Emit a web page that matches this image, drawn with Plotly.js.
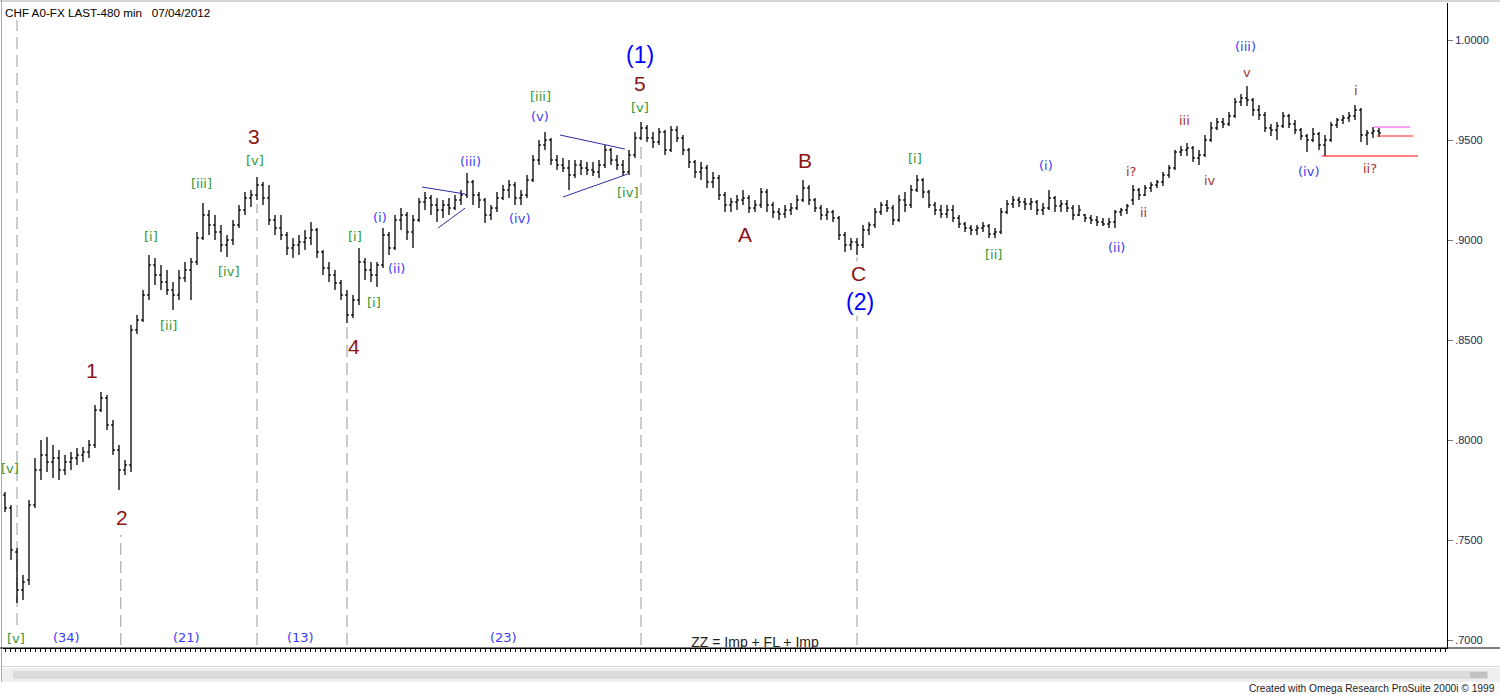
<!DOCTYPE html>
<html><head><meta charset="utf-8">
<script src="https://cdn.plot.ly/plotly-3.0.1.min.js"></script>
<style>html,body{margin:0;padding:0;background:#fff;}#chart{width:1500px;height:695px;}</style>
</head><body><div id="chart"></div>
<script>
// ---- OHLC data (CHF A0-FX, 480 min bars) ----
const opens = [
.7725,.7660,.7440,.7250,.7300,.7675,.7850,.7925,.7890,.7910,
.7850,.7890,.7910,.7925,.7940,.7975,.8150,.8210,.8075,.7950,
.7850,.7875,.8550,.8600,.8725,.8875,.8825,.8790,.8750,.8725,
.8810,.8850,.8890,.9010,.9125,.9075,.9040,.8975,.9000,.9075,
.9150,.9210,.9225,.9275,.9210,.9100,.9060,.9025,.8960,.8975,
.8990,.9010,.9050,.8940,.8860,.8825,.8785,.8725,.8625,.8700,
.8890,.8850,.8825,.8875,.9025,.8960,.9100,.9125,.9040,.9100,
.9190,.9210,.9175,.9150,.9175,.9160,.9200,.9225,.9290,.9225,
.9200,.9125,.9160,.9210,.9250,.9275,.9210,.9225,.9300,.9400,
.9475,.9500,.9400,.9375,.9360,.9325,.9375,.9360,.9350,.9340,
.9375,.9450,.9400,.9375,.9340,.9425,.9510,.9560,.9510,.9490,
.9540,.9450,.9550,.9510,.9450,.9390,.9340,.9360,.9290,.9310,
.9225,.9175,.9190,.9200,.9210,.9160,.9175,.9240,.9175,.9140,
.9130,.9150,.9160,.9200,.9260,.9200,.9160,.9125,.9140,.9110,
.9025,.8975,.8990,.8975,.9050,.9075,.9140,.9175,.9160,.9100,
.9200,.9175,.9250,.9300,.9240,.9175,.9150,.9130,.9150,.9110,
.9080,.9060,.9050,.9060,.9070,.9030,.9040,.9140,.9180,.9200,
.9190,.9180,.9190,.9150,.9160,.9210,.9170,.9180,.9160,.9125,
.9125,.9110,.9100,.9090,.9080,.9090,.9140,.9150,.9200,.9250,
.9225,.9260,.9275,.9290,.9325,.9360,.9440,.9450,.9460,.9410,
.9425,.9500,.9560,.9590,.9580,.9620,.9690,.9710,.9700,.9650,
.9625,.9560,.9550,.9570,.9620,.9580,.9550,.9520,.9500,.9530,
.9475,.9500,.9575,.9600,.9610,.9620,.9650,.9525,.9535,.9545];
const highs = [
.7740,.7675,.7460,.7325,.7700,.7910,.8000,.8015,.7975,.7950,
.7925,.7940,.7960,.7965,.8000,.8175,.8240,.8225,.8100,.7975,
.7900,.8575,.8625,.8750,.8925,.8910,.8875,.8850,.8790,.8850,
.8890,.8910,.9040,.9185,.9150,.9125,.9075,.9025,.9100,.9175,
.9240,.9250,.9315,.9290,.9275,.9125,.9125,.9040,.9010,.9025,
.9050,.9090,.9060,.8950,.8890,.8850,.8800,.8750,.8725,.8960,
.8910,.8890,.8890,.9060,.9040,.9125,.9160,.9140,.9125,.9210,
.9240,.9225,.9210,.9200,.9210,.9225,.9250,.9335,.9300,.9240,
.9210,.9175,.9240,.9275,.9300,.9290,.9250,.9325,.9425,.9500,
.9540,.9510,.9425,.9410,.9400,.9400,.9400,.9390,.9390,.9400,
.9475,.9460,.9425,.9400,.9450,.9540,.9590,.9575,.9540,.9560,
.9550,.9570,.9570,.9525,.9460,.9400,.9390,.9375,.9340,.9325,
.9240,.9210,.9225,.9250,.9225,.9200,.9260,.9255,.9190,.9160,
.9175,.9185,.9225,.9300,.9275,.9210,.9175,.9160,.9150,.9120,
.9040,.9010,.9010,.9075,.9090,.9160,.9190,.9200,.9175,.9225,
.9240,.9275,.9325,.9310,.9250,.9190,.9175,.9175,.9175,.9125,
.9090,.9075,.9075,.9090,.9080,.9060,.9160,.9200,.9220,.9215,
.9210,.9210,.9200,.9185,.9250,.9220,.9200,.9200,.9175,.9175,
.9130,.9125,.9120,.9110,.9110,.9150,.9160,.9180,.9275,.9260,
.9275,.9290,.9300,.9340,.9375,.9450,.9470,.9485,.9470,.9450,
.9525,.9590,.9610,.9610,.9640,.9710,.9730,.9770,.9710,.9675,
.9640,.9580,.9590,.9640,.9630,.9600,.9560,.9530,.9560,.9540,
.9525,.9590,.9610,.9625,.9640,.9675,.9660,.9550,.9565,.9560];
const lows = [
.7640,.7400,.7185,.7200,.7275,.7660,.7800,.7840,.7810,.7800,
.7825,.7850,.7875,.7890,.7910,.7960,.8140,.8050,.7925,.7750,
.7825,.7840,.8530,.8590,.8700,.8775,.8750,.8725,.8650,.8700,
.8790,.8700,.8875,.9000,.9025,.9000,.8940,.8915,.8975,.9060,
.9125,.9165,.9200,.9175,.9075,.9025,.9000,.8925,.8910,.8925,
.8950,.8975,.8910,.8825,.8790,.8750,.8700,.8585,.8610,.8675,
.8800,.8790,.8765,.8860,.8925,.8950,.9050,.9000,.8960,.9090,
.9150,.9125,.9090,.9110,.9125,.9150,.9175,.9210,.9175,.9160,
.9085,.9100,.9140,.9200,.9210,.9175,.9175,.9210,.9290,.9375,
.9450,.9375,.9350,.9340,.9250,.9310,.9325,.9325,.9320,.9310,
.9360,.9375,.9350,.9320,.9325,.9410,.9500,.9490,.9460,.9475,
.9425,.9440,.9490,.9425,.9360,.9310,.9300,.9260,.9260,.9200,
.9140,.9140,.9150,.9175,.9135,.9140,.9160,.9140,.9110,.9100,
.9110,.9125,.9150,.9190,.9175,.9140,.9100,.9100,.9090,.9000,
.8940,.8950,.8925,.8960,.9025,.9060,.9125,.9140,.9075,.9090,
.9140,.9160,.9240,.9210,.9160,.9125,.9110,.9110,.9090,.9060,
.9040,.9025,.9025,.9040,.9010,.9010,.9030,.9130,.9160,.9165,
.9150,.9150,.9125,.9125,.9150,.9140,.9140,.9140,.9100,.9120,
.9090,.9080,.9070,.9070,.9060,.9060,.9120,.9130,.9175,.9200,
.9220,.9240,.9260,.9270,.9310,.9350,.9420,.9420,.9390,.9375,
.9415,.9490,.9550,.9560,.9570,.9610,.9670,.9670,.9620,.9600,
.9540,.9520,.9500,.9560,.9560,.9530,.9500,.9440,.9490,.9450,
.9420,.9490,.9560,.9580,.9590,.9600,.9490,.9475,.9510,.9515];
const closes = [
.7660,.7450,.7250,.7290,.7675,.7850,.7925,.7890,.7910,.7850,
.7890,.7910,.7925,.7940,.7975,.8150,.8210,.8075,.7950,.7850,
.7875,.8550,.8600,.8725,.8875,.8825,.8790,.8750,.8725,.8810,
.8850,.8890,.9010,.9125,.9075,.9040,.8975,.9000,.9075,.9150,
.9210,.9225,.9275,.9210,.9100,.9060,.9025,.8960,.8975,.8990,
.9010,.9050,.8940,.8860,.8825,.8785,.8725,.8625,.8700,.8890,
.8850,.8825,.8875,.9025,.8960,.9100,.9125,.9040,.9100,.9190,
.9210,.9175,.9150,.9175,.9160,.9200,.9225,.9290,.9225,.9200,
.9125,.9160,.9210,.9250,.9275,.9210,.9225,.9300,.9400,.9475,
.9500,.9400,.9375,.9360,.9325,.9375,.9360,.9350,.9340,.9375,
.9450,.9400,.9375,.9340,.9425,.9510,.9560,.9510,.9490,.9540,
.9450,.9550,.9510,.9450,.9390,.9340,.9360,.9290,.9310,.9225,
.9175,.9190,.9200,.9210,.9160,.9175,.9240,.9175,.9140,.9130,
.9150,.9160,.9200,.9260,.9200,.9160,.9125,.9140,.9110,.9025,
.8975,.8990,.8975,.9050,.9075,.9140,.9175,.9160,.9100,.9200,
.9175,.9250,.9300,.9240,.9175,.9150,.9130,.9150,.9110,.9080,
.9060,.9050,.9060,.9070,.9030,.9040,.9140,.9180,.9200,.9190,
.9180,.9190,.9150,.9160,.9210,.9170,.9180,.9160,.9125,.9150,
.9110,.9100,.9090,.9080,.9090,.9140,.9150,.9170,.9250,.9225,
.9260,.9275,.9290,.9325,.9360,.9440,.9450,.9460,.9410,.9425,
.9500,.9560,.9590,.9580,.9620,.9690,.9710,.9700,.9650,.9625,
.9560,.9550,.9570,.9620,.9580,.9550,.9520,.9500,.9530,.9475,
.9500,.9575,.9600,.9610,.9620,.9650,.9525,.9535,.9545,.9535];
const barIndex = opens.map((_, i) => i);

// ---- axis ticks ----
const yTickVals = [0.70, 0.75, 0.80, 0.85, 0.90, 0.95, 1.00];
const yTickText = ['.7000', '.7500', '.8000', '.8500', '.9000', '.9500', '1.0000'];

// ---- wave labels (bar index, price) ----
const bigRedText  = ['1', '2', '3', '4', '5', 'A', 'B', 'C'];
const bigRedBar   = [14.5, 19.5, 41.5, 58.2, 105.8, 123.3, 133.3, 142.3];
const bigRedPrice = [0.835, 0.7615, 0.952, 0.847, 0.9785, 0.903, 0.94, 0.8835];

const bigBlueText  = ['(1)', '(2)'];
const bigBlueBar   = [105.8, 142.5];
const bigBluePrice = [0.9925, 0.869];

const greenText  = ['[v]', '[v]', '[i]', '[ii]', '[iii]', '[iv]', '[v]', '[i]', '[i]', '[iii]', '[v]', '[iv]', '[i]', '[ii]'];
const greenBar   = [0.8, 1.8, 24.3, 27.2, 32.7, 37.3, 41.7, 58.3, 61.5, 89.2, 105.8, 103.8, 151.7, 164.8];
const greenPrice = [0.786, 0.701, 0.902, 0.8575, 0.9285, 0.8845, 0.94, 0.902, 0.869, 0.972, 0.9665, 0.924, 0.941, 0.893];

const blueText  = ['(34)', '(21)', '(13)', '(23)', '(i)', '(ii)', '(iii)', '(iv)', '(v)', '(i)', '(ii)', '(iii)', '(iv)'];
const blueBar   = [10.3, 30.2, 49.2, 83.0, 62.5, 65.2, 77.5, 85.8, 89.2, 173.5, 185.2, 206.8, 217.2];
const bluePrice = [0.7015, 0.7015, 0.7015, 0.7015, 0.9115, 0.886, 0.9395, 0.911, 0.962, 0.9375, 0.8965, 0.997, 0.9345];

const smallRedText  = ['i?', 'ii', 'iii', 'iv', 'v', 'i', 'ii?'];
const smallRedBar   = [187.8, 189.7, 196.5, 200.8, 207.0, 225.2, 227.5];
const smallRedPrice = [0.9345, 0.914, 0.96, 0.93, 0.984, 0.975, 0.936];

// label that sits on the bottom axis (clipped by the plot edge)
const clipText  = ['ZZ = Imp + FL + Imp'];
const clipBar   = [125];
const clipPrice = [0.6982];

// dashed wave-end markers: bar, top price, bottom price
const markBar    = [2, 19.3, 42, 57, 106, 142];
const markTop    = [1.010, 0.7525, 0.918, 0.8575, 0.9485, 0.8915];
const markBottom = [0.7075, 0.6975, 0.6975, 0.6975, 0.6975, 0.6975];

// triangle trend lines: [bar0, price0, bar1, price1]
const triLines = [
  [69.5, 0.9265, 76.7, 0.923],
  [72.2, 0.906, 76.7, 0.916],
  [92.5, 0.9525, 103.3, 0.9455],
  [93.0, 0.9215, 103.8, 0.933]
];
// horizontal reference levels at the right end
const levelPrice = [0.942, 0.952, 0.9565];
const levelFrom  = [219.5, 228.7, 228.2];
const levelTo    = [235.5, 234.7, 234.2];
const levelColor = ['#ff0000', '#ff2020', '#ee44ee'];

// ---- layout geometry ----
const W = 1500, H = 695, ML = 3, MR = 53, MT = 3, MB = 47;
const PW = W - ML - MR, PH = H - MT - MB;
const px = v => (v - ML) / PW;
const py = v => (H - MB - v) / PH;
const FONT = 'Liberation Sans, Arial, sans-serif';
const SMALL = 'DejaVu Sans, Verdana, sans-serif';

const annotations = [];
function addLabels(texts, bars, prices, color, size, family, bg) {
  texts.forEach((t, i) => annotations.push({
    x: bars[i], y: prices[i], xref: 'x', yref: 'y', text: t, showarrow: false,
    font: {family: family, size: size, color: color},
    bgcolor: bg || 'rgba(0,0,0,0)', borderpad: 0,
    xanchor: 'center', yanchor: 'middle'
  }));
}
addLabels(greenText, greenBar, greenPrice, '#339933', 13, SMALL);
addLabels(blueText, blueBar, bluePrice, '#3c3cf5', 13, SMALL);
addLabels(smallRedText, smallRedBar, smallRedPrice, '#a03232', 13, SMALL);
addLabels(bigRedText, bigRedBar, bigRedPrice, '#8c1414', 21, FONT);
addLabels(bigBlueText, bigBlueBar, bigBluePrice, '#0000ff', 23, FONT, '#ffffff');
// white behind C so the dashed line is hidden there
annotations[annotations.length - 3].bgcolor = '#ffffff';

annotations.push({
  xref: 'paper', yref: 'paper', x: px(3), y: py(4), xanchor: 'left', yanchor: 'top',
  text: 'CHF A0-FX LAST-480 min\u00a0\u00a0\u00a007/04/2012', showarrow: false,
  font: {family: FONT, size: 11.7, color: '#000'}
});
annotations.push({
  xref: 'paper', yref: 'paper', x: px(1497), y: py(688), xanchor: 'right', yanchor: 'middle',
  text: 'Created with Omega Research ProSuite 2000i \u00a9 1999', showarrow: false,
  font: {family: FONT, size: 10.2, color: '#222'}
});

const shapes = [];
markBar.forEach((b, i) => shapes.push({
  type: 'line', xref: 'x', yref: 'y', x0: b, x1: b, y0: markBottom[i], y1: markTop[i],
  line: {color: '#9a9a9a', width: 1, dash: '12px,6px'}, layer: 'below'
}));
triLines.forEach(t => shapes.push({
  type: 'line', xref: 'x', yref: 'y', x0: t[0], y0: t[1], x1: t[2], y1: t[3],
  line: {color: '#2c2ca0', width: 1}
}));
levelPrice.forEach((p, i) => shapes.push({
  type: 'line', xref: 'x', yref: 'y', x0: levelFrom[i], x1: levelTo[i], y0: p, y1: p,
  line: {color: levelColor[i], width: 1}
}));
// frame, bottom line, scrollbar
shapes.push({type: 'line', xref: 'paper', yref: 'paper', x0: px(0), x1: px(1500), y0: py(1), y1: py(1), line: {color: '#a8a8a8', width: 1}});
shapes.push({type: 'line', xref: 'paper', yref: 'paper', x0: px(1.5), x1: px(1.5), y0: py(0), y1: py(682), line: {color: '#a8a8a8', width: 1}});
shapes.push({type: 'line', xref: 'paper', yref: 'paper', x0: px(0), x1: px(1500), y0: py(648), y1: py(648), line: {color: '#000', width: 1}});
shapes.push({type: 'line', xref: 'paper', yref: 'paper', x0: px(2), x1: px(1500), y0: py(666.5), y1: py(666.5), line: {color: '#d6d6d6', width: 1}});
shapes.push({type: 'rect', xref: 'paper', yref: 'paper', x0: px(2), x1: px(1500), y0: py(682), y1: py(668), fillcolor: '#efefef', line: {width: 0}});
shapes.push({type: 'rect', xref: 'paper', yref: 'paper', x0: px(13), x1: px(1488), y0: py(679), y1: py(671), fillcolor: '#dcdcdc', line: {width: 0}});
shapes.push({type: 'rect', xref: 'paper', yref: 'paper', x0: px(1470), x1: px(1487), y0: py(678), y1: py(672), fillcolor: '#c2c2c2', line: {width: 0}});

const traces = [
  {
    type: 'ohlc', x: barIndex, open: opens, high: highs, low: lows, close: closes,
    increasing: {line: {color: '#000', width: 1.3}},
    decreasing: {line: {color: '#000', width: 1.3}},
    tickwidth: 0.3, hoverinfo: 'skip', showlegend: false
  },
  {
    type: 'scatter', mode: 'text', x: clipBar, y: clipPrice, text: clipText,
    textposition: 'middle center', cliponaxis: true, hoverinfo: 'skip', showlegend: false,
    textfont: {family: FONT, size: 14, color: '#222'}
  }
];

const layout = {
  width: W, height: H,
  margin: {l: ML, r: MR, t: MT, b: MB, pad: 0},
  paper_bgcolor: '#ffffff', plot_bgcolor: '#ffffff',
  showlegend: false,
  xaxis: {
    range: [-0.3333, 240.3333], showticklabels: false, ticks: 'outside', ticklen: 3,
    tickcolor: '#000', tickwidth: 1, dtick: 5 / 6, tick0: 0,
    showline: true, linecolor: '#000', linewidth: 1, showgrid: false, zeroline: false,
    rangeslider: {visible: false}, fixedrange: true
  },
  yaxis: {
    range: [0.696, 1.0185], side: 'right', tickvals: yTickVals, ticktext: yTickText,
    ticks: 'outside', ticklen: 5, tickcolor: '#777', tickwidth: 1,
    showline: true, linecolor: '#000', linewidth: 1, showgrid: false, zeroline: false,
    tickfont: {family: FONT, size: 11, color: '#1e2850'}, fixedrange: true
  },
  annotations: annotations,
  shapes: shapes
};

Plotly.newPlot('chart', traces, layout, {displayModeBar: false, staticPlot: true});
</script>
</body></html>
